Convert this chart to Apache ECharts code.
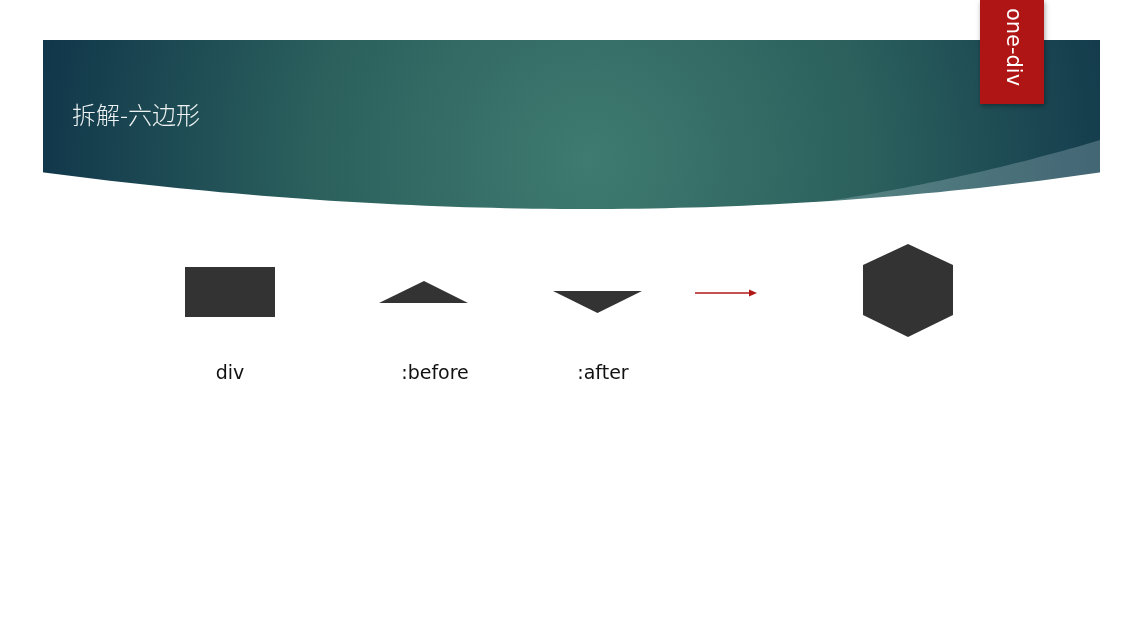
<!DOCTYPE html>
<html>
<head>
    <meta charset="utf-8">
    <title>拆解-六边形</title>
    <script src="https://cdn.jsdelivr.net/npm/echarts@6/dist/echarts.min.js"></script>
    <style>
        html, body { margin: 0; padding: 0; background: #fff; }
    </style>
</head>
<body>
<div id="main" style="width: 1144px;height:640px;"></div>
<script type="text/javascript">
    // 文本内容
    var titleText = '拆解-六边形';
    var tabText = 'one-div';
    var shapeLabels = ['div', ':before', ':after'];

    var shapeColor = '#333333';
    var labelFont = '19px "DejaVu Sans", sans-serif';

    var myChart = echarts.init(document.getElementById('main'));

    // 二次贝塞尔曲线取点
    function quad(p0, c, p1, n) {
        var pts = [];
        for (var i = 0; i <= n; i++) {
            var t = i / n, u = 1 - t;
            pts.push([
                u * u * p0[0] + 2 * u * t * c[0] + t * t * p1[0],
                u * u * p0[1] + 2 * u * t * c[1] + t * t * p1[1]
            ]);
        }
        return pts;
    }

    var overlayPts = quad([1100, 140], [950, 185], [780, 208], 40)
        .concat([[780, 260], [1100, 260]]);
    var maskPts = quad([40, 172], [600, 246], [1103, 172], 80)
        .concat([[1103, 262], [40, 262]]);

    var labelX = [230, 435, 603];
    var labelGraphics = shapeLabels.map(function (t, i) {
        return {
            type: 'text',
            x: labelX[i],
            y: 374,
            style: {
                text: t,
                font: labelFont,
                fill: '#111',
                textAlign: 'center',
                textVerticalAlign: 'middle'
            }
        };
    });

    var option = {
        animation: false,
        graphic: [
            // 顶部横幅
            {
                type: 'rect',
                shape: { x: 43, y: 40, width: 1057, height: 220 },
                style: {
                    fill: {
                        type: 'radial',
                        x: 590, y: 160, r: 560,
                        global: true,
                        colorStops: [
                            { offset: 0, color: '#3f7b70' },
                            { offset: 0.5, color: '#2b605d' },
                            { offset: 1, color: '#10364a' }
                        ]
                    }
                }
            },
            // 右侧浅色弧带
            {
                type: 'polygon',
                shape: { points: overlayPts },
                style: { fill: 'rgba(200,220,230,0.26)' }
            },
            // 白色底弧遮罩
            {
                type: 'polygon',
                shape: { points: maskPts },
                style: { fill: '#ffffff' }
            },
            {
                type: 'text',
                x: 72,
                y: 115,
                style: {
                    text: titleText,
                    font: '300 24px "Noto Sans CJK SC", sans-serif',
                    fill: '#eef2f2',
                    textVerticalAlign: 'middle'
                }
            },
            // 红色标签
            {
                type: 'rect',
                shape: { x: 980, y: 0, width: 64, height: 104 },
                style: {
                    fill: '#b01515',
                    shadowBlur: 5,
                    shadowColor: 'rgba(0,0,0,0.35)',
                    shadowOffsetX: 1,
                    shadowOffsetY: 2
                }
            },
            {
                type: 'text',
                x: 1012,
                y: 47,
                rotation: -Math.PI / 2,
                style: {
                    text: tabText,
                    font: '21px "DejaVu Sans", sans-serif',
                    fill: '#ffffff',
                    textAlign: 'center',
                    textVerticalAlign: 'middle'
                }
            },
            // div
            {
                type: 'rect',
                shape: { x: 185, y: 267, width: 90, height: 50 },
                style: { fill: shapeColor }
            },
            // :before
            {
                type: 'polygon',
                shape: { points: [[424, 281], [468, 303], [379, 303]] },
                style: { fill: shapeColor }
            },
            // :after
            {
                type: 'polygon',
                shape: { points: [[553, 291], [642, 291], [597.5, 313]] },
                style: { fill: shapeColor }
            },
            // 箭头
            {
                type: 'line',
                shape: { x1: 695, y1: 293, x2: 750, y2: 293 },
                style: { stroke: '#b01818', lineWidth: 1.3 }
            },
            {
                type: 'polygon',
                shape: { points: [[749, 289.5], [757, 293], [749, 296.5]] },
                style: { fill: '#b01818' }
            },
            // 六边形
            {
                type: 'polygon',
                shape: {
                    points: [[908, 244], [953, 265], [953, 315], [908, 337], [863, 315], [863, 265]]
                },
                style: { fill: shapeColor }
            }
        ].concat(labelGraphics)
    };

    myChart.setOption(option);
</script>
</body>
</html>
